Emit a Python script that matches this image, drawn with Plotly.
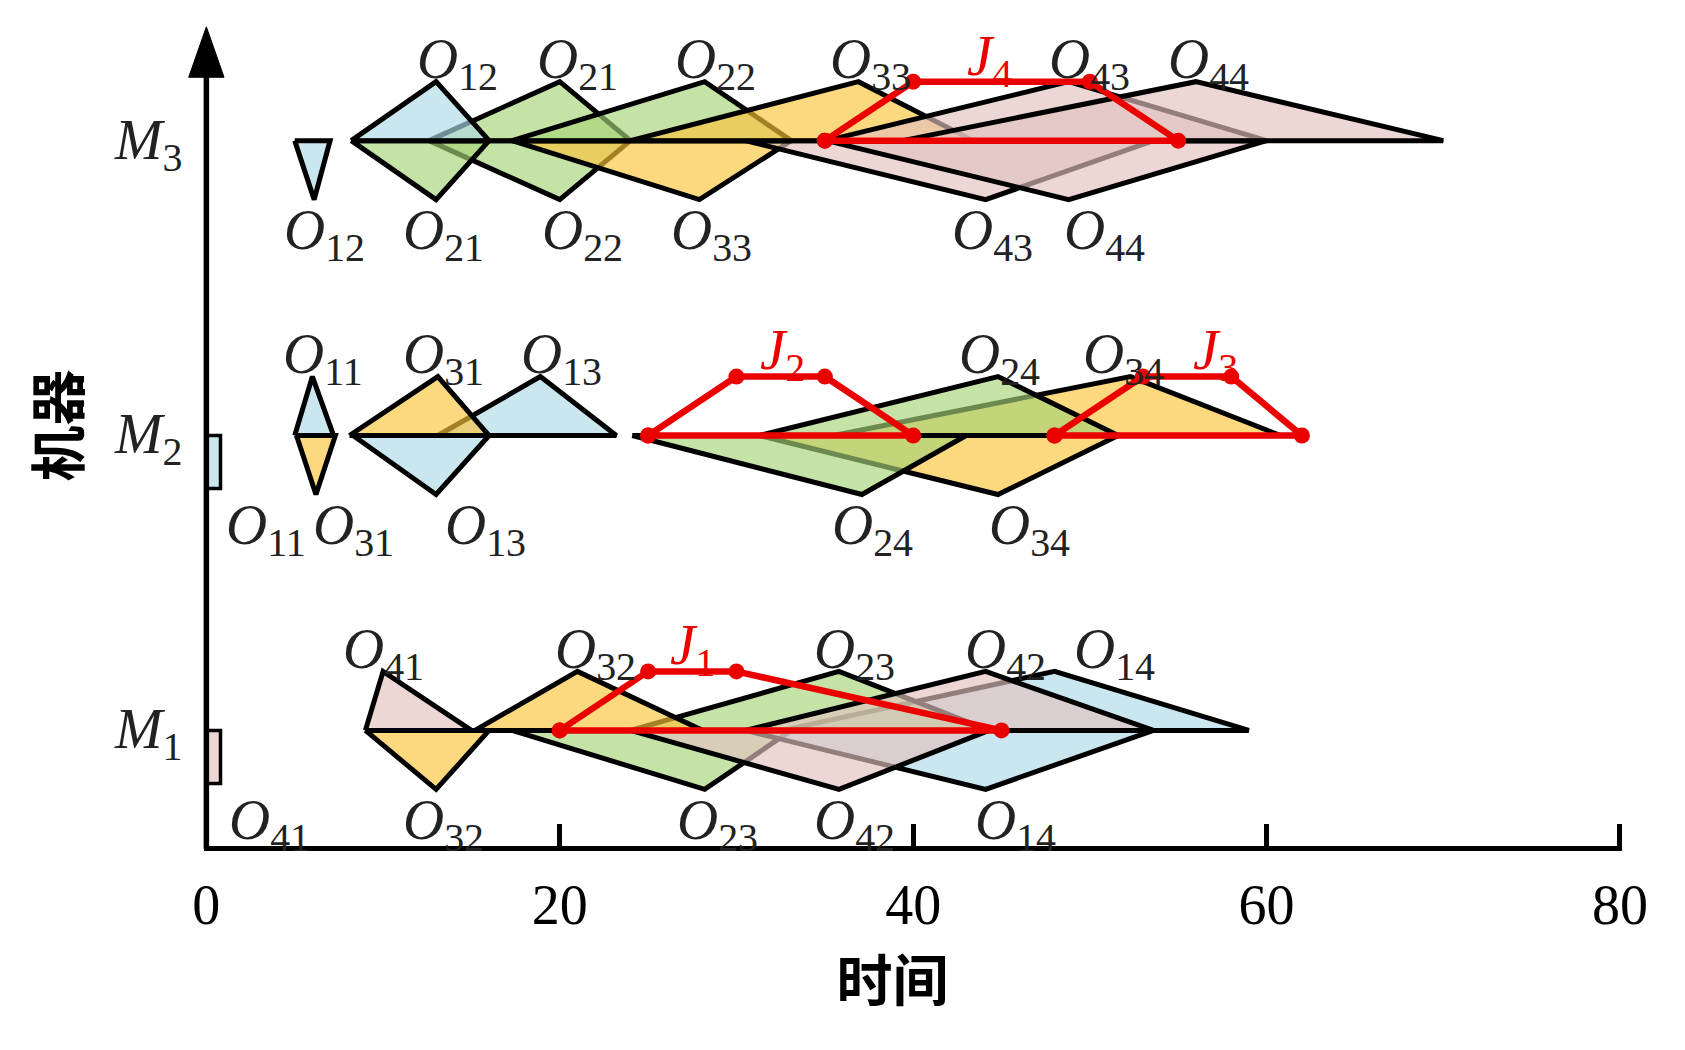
import plotly.graph_objects as go

# Fuzzy Gantt chart: machines on y (1..3), time on x
machine_names = ["M<sub>1</sub>", "M<sub>2</sub>", "M<sub>3</sub>"]

# operation sequence on each machine (O_ij = job i, operation j)
seq_m1 = ["O41", "O32", "O23", "O42", "O14"]
seq_m2 = ["O11", "O31", "O13", "O24", "O34"]
seq_m3 = ["O12", "O21", "O22", "O33", "O43", "O44"]

# fuzzy start times (triangular: left, peak, right)
start_m1 = [(0, 0, 0), (9, 13, 16), (17.3, 28.2, 33.1), (24, 35.8, 44.3), (30.5, 44.1, 53.6)]
start_m2 = [(0, 0, 0), (5.1, 6.2, 7.3), (8.3, 13, 16), (24.1, 37.1, 43), (31.3, 44.8, 51.6)]
start_m3 = [(5, 6.1, 7), (8.2, 13, 16), (12.6, 20, 24), (17.3, 27.9, 33.1), (30.5, 44.1, 53.6), (35.1, 48.8, 60)]

# fuzzy completion times
end_m1 = [(9, 10, 15), (15.2, 21, 28.1), (24, 35.8, 44.3), (30.5, 44.1, 53.6), (32.6, 48, 59)]
end_m2 = [(5, 6, 7.2), (8.1, 13.1, 16), (13.1, 18.9, 23.2), (31.3, 44.8, 51.6), (35.5, 52.3, 60.8)]
end_m3 = [(8.2, 13, 16), (12.6, 20, 24), (17.3, 28.2, 33.1), (24, 36.9, 43.4), (35.1, 48.8, 60), (39.4, 56, 70)]

# fuzzy due dates (trapezoidal) and the machine row they are drawn on
due_jobs = ["J1", "J2", "J3", "J4"]
due_row = [1, 2, 2, 3]
due_dates = [(20, 25, 30, 45), (25, 30, 35, 40), (48, 53, 58, 62), (35, 40, 50, 55)]

x_ticks = [0, 20, 40, 60, 80]

# ---- styling ----
FONT = "Liberation Serif"
H = 0.2            # triangle height
RECT_W = 0.8       # width of crisp (zero) start bar
Y_AXIS = 0.599     # y position of time axis
job_fill = {"1": "rgba(173,216,230,0.65)", "2": "rgba(166,212,118,0.65)",
            "3": "rgba(251,195,58,0.65)", "4": "rgba(226,194,191,0.65)"}
RED = "rgb(235,0,0)"

# label offsets (x units) from triangle peak, top (completion) and bottom (start)
top_nudge = {"O12": 1.2, "O21": 1.0, "O22": 0.6, "O33": 0.7, "O43": 1.2, "O44": 0.7,
             "O11": 0.6, "O31": 0.3, "O13": 1.2, "O24": 0.1, "O34": -0.4,
             "O41": 0.0, "O32": 1.0, "O23": 0.9, "O42": 1.1, "O14": 3.4}
bot_nudge = {"O12": 0.6, "O21": 0.4, "O22": 1.3, "O33": 0.7, "O43": 0.4, "O44": 2.0,
             "O11": 3.4, "O31": 2.1, "O13": 2.8, "O24": 0.6, "O34": 1.8,
             "O41": 3.6, "O32": 0.4, "O23": 0.7, "O42": 0.9, "O14": 1.7}
due_nudge = [0.0, 0.1, 1.6, -0.7]

# draw order (later = on top)
lower_order = ["O41", "O11", "O12", "O32", "O23", "O14", "O42", "O31", "O13", "O34", "O24",
               "O22", "O21", "O33", "O43", "O44"]
upper_order = ["O41", "O14", "O23", "O32", "O42", "O11", "O13", "O31", "O34", "O24",
               "O21", "O12", "O22", "O33", "O43", "O44"]

# collect operations
ops = {}
for row, (seq, st, en) in enumerate([(seq_m1, start_m1, end_m1), (seq_m2, start_m2, end_m2),
                                     (seq_m3, start_m3, end_m3)], start=1):
    for name, s, c in zip(seq, st, en):
        ops[name] = dict(row=row, s=s, c=c)

fig = go.Figure()

line_style = dict(color="black", width=5)

# start triangles (below the machine line)
for name in lower_order:
    op = ops[name]
    y0 = op["row"]
    a, b, c = op["s"]
    if a == c:
        xs = [a, a + RECT_W, a + RECT_W, a, a]
        ys = [y0, y0, y0 - 0.9 * H, y0 - 0.9 * H, y0]
        lw = dict(color="black", width=3.5)
    else:
        xs = [a, b, c, a]
        ys = [y0, y0 - H, y0, y0]
        lw = line_style
    fig.add_trace(go.Scatter(x=xs, y=ys, mode="lines", fill="toself",
                             fillcolor=job_fill[name[1]], line=lw,
                             showlegend=False, hoverinfo="skip"))

# completion triangles (above the machine line)
for name in upper_order:
    op = ops[name]
    y0 = op["row"]
    a, b, c = op["c"]
    fig.add_trace(go.Scatter(x=[a, b, c, a], y=[y0, y0 + H, y0, y0], mode="lines",
                             fill="toself", fillcolor=job_fill[name[1]], line=line_style,
                             showlegend=False, hoverinfo="skip"))

# fuzzy due dates
for job, row, d in zip(due_jobs, due_row, due_dates):
    fig.add_trace(go.Scatter(x=[d[0], d[1], d[2], d[3], d[0]],
                             y=[row, row + H, row + H, row, row],
                             mode="lines+markers", line=dict(color=RED, width=6.5),
                             marker=dict(color=RED, size=16),
                             showlegend=False, hoverinfo="skip"))

# axes drawn as lines
fig.add_trace(go.Scatter(x=[0, 80], y=[Y_AXIS, Y_AXIS], mode="lines",
                         line=dict(color="black", width=5.5), showlegend=False, hoverinfo="skip"))
fig.add_trace(go.Scatter(x=[0, 0], y=[Y_AXIS, 3.22], mode="lines",
                         line=dict(color="black", width=5.5), showlegend=False, hoverinfo="skip"))
fig.add_trace(go.Scatter(x=[-1.0, 1.0, 0, -1.0], y=[3.215, 3.215, 3.386, 3.215], mode="lines",
                         fill="toself", fillcolor="black", line=dict(color="black", width=1),
                         showlegend=False, hoverinfo="skip"))

# labels
lab_font = dict(family=FONT, size=57, color="#222222")
for name, op in ops.items():
    sub = name[1:]
    txt = f"<i>O</i><sub>{sub}</sub>"
    fig.add_annotation(x=op["c"][1] + top_nudge[name], y=op["row"] + 0.262, text=txt,
                       showarrow=False, xanchor="center", yanchor="middle", font=lab_font)
    fig.add_annotation(x=op["s"][1] + bot_nudge[name], y=op["row"] - 0.317, text=txt,
                       showarrow=False, xanchor="center", yanchor="middle", font=lab_font)

for job, row, d, nd in zip(due_jobs, due_row, due_dates, due_nudge):
    fig.add_annotation(x=(d[1] + d[2]) / 2 + nd, y=row + 0.275,
                       text=f"<i>J</i><sub>{job[1:]}</sub>", showarrow=False,
                       xanchor="center", yanchor="middle",
                       font=dict(family=FONT, size=57, color=RED))

for i, m in enumerate(machine_names, start=1):
    fig.add_annotation(x=-3.32, y=i - 0.01, text=f"<i>{m[0]}</i>{m[1:]}", showarrow=False,
                       xanchor="center", yanchor="middle", font=lab_font)

fig.update_layout(
    width=1685, height=1050,
    margin=dict(l=100, r=0, t=0, b=199),
    plot_bgcolor="white", paper_bgcolor="white",
    xaxis=dict(range=[-6.02, 83.68], tickvals=x_ticks, ticks="inside", ticklen=27,
               tickwidth=4.5, tickcolor="black", showgrid=False, zeroline=False, showline=False,
               ticklabelstandoff=16,
               tickfont=dict(family=FONT, size=56, color="black"),
               title=dict(text="时间", standoff=26,
                          font=dict(family="Noto Sans CJK SC", size=56, color="black",
                                    weight="bold"))),
    yaxis=dict(range=[0.591, 3.477], showgrid=False, zeroline=False, showline=False,
               showticklabels=False, ticks="",
               title=dict(text="机器", standoff=1,
                          font=dict(family="Noto Sans CJK SC", size=56, color="black",
                                    weight="bold"))),
)

fig.write_html("out.html", config={"displayModeBar": False},
               post_script="document.body.style.margin='0';")
